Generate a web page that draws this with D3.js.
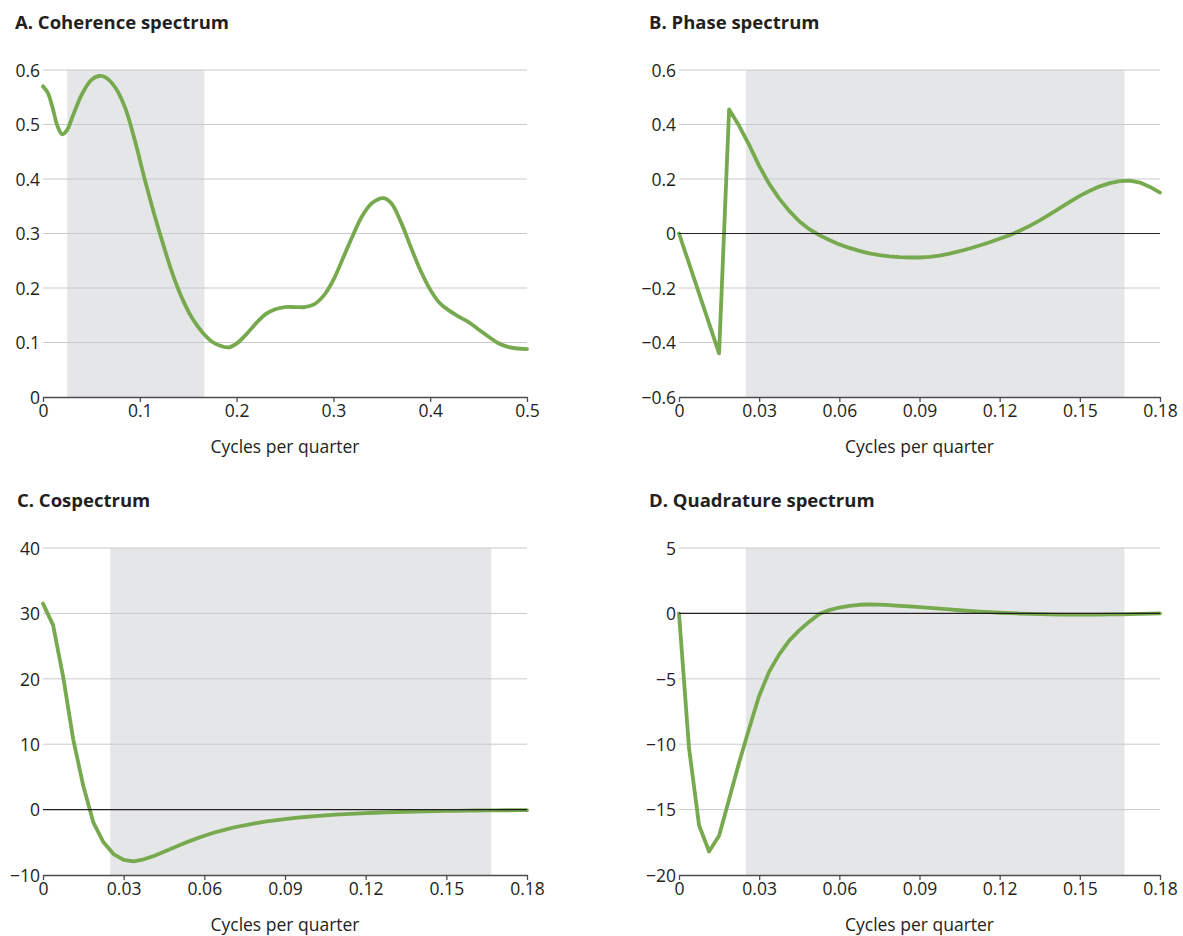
<!DOCTYPE html>
<html>
<head>
<meta charset="utf-8">
<script src="https://cdn.jsdelivr.net/npm/d3@7"></script>
<style>
  body { margin: 0; background: #ffffff; }
  svg text { font-family: "Open Sans", "DejaVu Sans", sans-serif; fill: #231f20; }
</style>
</head>
<body>
<svg id="chart" width="1183" height="936"></svg>
<script>
// ---- Data ---------------------------------------------------------------

// Coherence spectrum (frequency in cycles per quarter, coherence)
const coherenceFreq = [0, 0.005, 0.010, 0.015, 0.020, 0.025, 0.030, 0.040, 0.050, 0.058,
  0.065, 0.075, 0.085, 0.095, 0.105, 0.115, 0.125, 0.135, 0.145, 0.155,
  0.165, 0.175, 0.185, 0.192, 0.200, 0.210, 0.220, 0.230, 0.240, 0.250,
  0.260, 0.270, 0.280, 0.290, 0.300, 0.310, 0.320, 0.330, 0.340, 0.352,
  0.360, 0.370, 0.380, 0.390, 0.400, 0.410, 0.420, 0.430, 0.440, 0.450,
  0.460, 0.470, 0.480, 0.490, 0.500];
const coherenceValues = [0.570, 0.558, 0.530, 0.497, 0.482, 0.490, 0.512, 0.555, 0.582, 0.589,
  0.586, 0.567, 0.530, 0.470, 0.400, 0.335, 0.275, 0.220, 0.176, 0.142,
  0.118, 0.101, 0.093, 0.091, 0.098, 0.115, 0.135, 0.152, 0.161, 0.165,
  0.165, 0.165, 0.170, 0.186, 0.215, 0.255, 0.296, 0.333, 0.356, 0.365,
  0.355, 0.320, 0.275, 0.232, 0.197, 0.172, 0.158, 0.147, 0.137, 0.124,
  0.111, 0.099, 0.092, 0.089, 0.088];

// Frequency grid shared by the phase, co- and quadrature spectra
const spectralFreq = [0, 0.00375, 0.0075, 0.01125, 0.015, 0.01875, 0.0225, 0.02625, 0.03, 0.03375,
  0.0375, 0.04125, 0.045, 0.04875, 0.0525, 0.05625, 0.06, 0.06375, 0.0675, 0.07125,
  0.075, 0.07875, 0.0825, 0.08625, 0.09, 0.09375, 0.0975, 0.10125, 0.105, 0.10875,
  0.1125, 0.11625, 0.12, 0.12375, 0.1275, 0.13125, 0.135, 0.13875, 0.1425, 0.14625,
  0.15, 0.15375, 0.1575, 0.16125, 0.165, 0.16875, 0.1725, 0.17625, 0.18];

const phaseValues = [0, -0.11, -0.22, -0.33, -0.44, 0.455, 0.395, 0.325, 0.248, 0.182,
  0.128, 0.083, 0.045, 0.016, -0.006, -0.024, -0.040, -0.053, -0.064, -0.073,
  -0.079, -0.084, -0.087, -0.088, -0.088, -0.086, -0.081, -0.074, -0.065, -0.055,
  -0.044, -0.032, -0.019, -0.006, 0.010, 0.028, 0.048, 0.070, 0.093, 0.116,
  0.138, 0.157, 0.173, 0.185, 0.192, 0.194, 0.187, 0.171, 0.150];

const cospectrumValues = [31.5, 28.2, 20.3, 10.7, 3.6, -2.0, -5.0, -6.8, -7.7, -7.9,
  -7.6, -7.1, -6.45, -5.8, -5.15, -4.55, -4.0, -3.5, -3.1, -2.7,
  -2.4, -2.1, -1.85, -1.65, -1.45, -1.28, -1.13, -1.0, -0.88, -0.78,
  -0.69, -0.61, -0.54, -0.48, -0.42, -0.37, -0.33, -0.29, -0.26, -0.23,
  -0.2, -0.18, -0.16, -0.14, -0.12, -0.11, -0.1, -0.09, -0.08];

const quadratureValues = [0, -10.3, -16.2, -18.2, -17.0, -14.2, -11.4, -8.8, -6.3, -4.45,
  -3.13, -2.08, -1.3, -0.63, -0.05, 0.25, 0.45, 0.58, 0.66, 0.68,
  0.67, 0.63, 0.58, 0.53, 0.48, 0.42, 0.36, 0.30, 0.24, 0.19,
  0.14, 0.09, 0.05, 0.02, -0.01, -0.04, -0.06, -0.08, -0.09, -0.10,
  -0.10, -0.10, -0.09, -0.08, -0.07, -0.05, -0.03, -0.01, 0.0];

// Business-cycle frequency band (6 to 40 quarters)
const businessCycleBand = [0.025, 0.1667];

// Axis ticks and their labels
const coherenceXTicks = [0, 0.1, 0.2, 0.3, 0.4, 0.5];
const coherenceXLabels = ["0", "0.1", "0.2", "0.3", "0.4", "0.5"];
const coherenceYTicks = [0, 0.1, 0.2, 0.3, 0.4, 0.5, 0.6];
const coherenceYLabels = ["0", "0.1", "0.2", "0.3", "0.4", "0.5", "0.6"];

const spectralXTicks = [0, 0.03, 0.06, 0.09, 0.12, 0.15, 0.18];
const spectralXLabels = ["0", "0.03", "0.06", "0.09", "0.12", "0.15", "0.18"];

const phaseYTicks = [-0.6, -0.4, -0.2, 0, 0.2, 0.4, 0.6];
const phaseYLabels = ["\u22120.6", "\u22120.4", "\u22120.2", "0", "0.2", "0.4", "0.6"];

const cospectrumYTicks = [-10, 0, 10, 20, 30, 40];
const cospectrumYLabels = ["\u221210", "0", "10", "20", "30", "40"];

const quadratureYTicks = [-20, -15, -10, -5, 0, 5];
const quadratureYLabels = ["\u221220", "\u221215", "\u221210", "\u22125", "0", "5"];

const panelTitles = ["A. Coherence spectrum", "B. Phase spectrum", "C. Cospectrum", "D. Quadrature spectrum"];
const xAxisTitle = "Cycles per quarter";

// ---- Drawing ------------------------------------------------------------

const svg = d3.select("#chart");
const lineColor = "#77a94e";
const gridColor = "#c9cacc";
const shadeColor = "#e5e6e8";

function drawPanel(p) {
  const g = svg.append("g");
  const x = d3.scaleLinear().domain(p.xDomain).range([p.left, p.right]);
  const y = d3.scaleLinear().domain(p.yDomain).range([p.bottom, p.top]);

  // title
  g.append("text")
    .attr("x", p.titleX).attr("y", p.top - 41)
    .attr("font-size", 18.5).attr("font-weight", 700)
    .text(p.title);

  // shaded business-cycle band
  g.append("rect")
    .attr("x", x(businessCycleBand[0]))
    .attr("y", y(p.yDomain[1]))
    .attr("width", x(businessCycleBand[1]) - x(businessCycleBand[0]))
    .attr("height", y(p.yDomain[0]) - y(p.yDomain[1]))
    .attr("fill", shadeColor);

  // horizontal gridlines
  g.append("g").selectAll("line")
    .data(p.yTicks.filter(v => v !== p.yDomain[0] && v !== 0))
    .join("line")
    .attr("x1", p.left).attr("x2", p.right)
    .attr("y1", d => y(d)).attr("y2", d => y(d))
    .attr("stroke", gridColor).attr("stroke-width", 1);

  // y labels
  const yAxis = d3.axisLeft(y)
    .tickValues(p.yTicks)
    .tickFormat((d, i) => p.yLabels[i])
    .tickSize(0).tickPadding(3);
  const ya = g.append("g").attr("transform", `translate(${p.left},0)`).call(yAxis);
  ya.select(".domain").remove();
  ya.selectAll("text")
    .attr("font-family", null).attr("font-size", 17.5)
    .attr("fill", "#231f20").attr("dy", "0.36em");

  // data line
  const line = d3.line()
    .x((d, i) => x(p.xs[i]))
    .y(d => y(d))
    .curve(p.curve);
  g.append("path")
    .datum(p.ys)
    .attr("d", line)
    .attr("fill", "none")
    .attr("stroke", lineColor)
    .attr("stroke-width", 3.8)
    .attr("stroke-linejoin", "round")
    .attr("stroke-linecap", "round");

  // zero line
  if (p.yDomain[0] < 0) {
    g.append("line")
      .attr("x1", p.left).attr("x2", p.right)
      .attr("y1", y(0)).attr("y2", y(0))
      .attr("stroke", "#231f20").attr("stroke-width", 1.2);
  }

  // bottom axis
  const xAxis = d3.axisBottom(x)
    .tickValues(p.xTicks)
    .tickFormat((d, i) => p.xLabels[i])
    .tickSize(5).tickSizeOuter(0).tickPadding(3);
  const xa = g.append("g").attr("transform", `translate(0,${p.bottom})`).call(xAxis);
  xa.select(".domain").attr("stroke", "#4d4d4f").attr("stroke-width", 1.6);
  xa.selectAll(".tick line").attr("stroke", "#4d4d4f").attr("stroke-width", 1.3);
  xa.selectAll("text")
    .attr("font-family", null).attr("font-size", 17.5)
    .attr("fill", "#231f20");

  // x axis title
  g.append("text")
    .attr("x", (p.left + p.right) / 2).attr("y", p.bottom + 56)
    .attr("text-anchor", "middle")
    .attr("font-size", 17.5)
    .text(xAxisTitle);
}

drawPanel({
  title: panelTitles[0], titleX: 15,
  left: 43, right: 527, top: 70, bottom: 397,
  xDomain: [0, 0.5], yDomain: [0, 0.6],
  xTicks: coherenceXTicks, xLabels: coherenceXLabels,
  yTicks: coherenceYTicks, yLabels: coherenceYLabels,
  xs: coherenceFreq, ys: coherenceValues, curve: d3.curveCatmullRom.alpha(0.5)
});

drawPanel({
  title: panelTitles[1], titleX: 649,
  left: 679, right: 1160, top: 70, bottom: 397,
  xDomain: [0, 0.18], yDomain: [-0.6, 0.6],
  xTicks: spectralXTicks, xLabels: spectralXLabels,
  yTicks: phaseYTicks, yLabels: phaseYLabels,
  xs: spectralFreq, ys: phaseValues, curve: d3.curveLinear
});

drawPanel({
  title: panelTitles[2], titleX: 17,
  left: 43, right: 527, top: 548, bottom: 875,
  xDomain: [0, 0.18], yDomain: [-10, 40],
  xTicks: spectralXTicks, xLabels: spectralXLabels,
  yTicks: cospectrumYTicks, yLabels: cospectrumYLabels,
  xs: spectralFreq, ys: cospectrumValues, curve: d3.curveLinear
});

drawPanel({
  title: panelTitles[3], titleX: 649,
  left: 679, right: 1160, top: 548, bottom: 875,
  xDomain: [0, 0.18], yDomain: [-20, 5],
  xTicks: spectralXTicks, xLabels: spectralXLabels,
  yTicks: quadratureYTicks, yLabels: quadratureYLabels,
  xs: spectralFreq, ys: quadratureValues, curve: d3.curveLinear
});
</script>
</body>
</html>
